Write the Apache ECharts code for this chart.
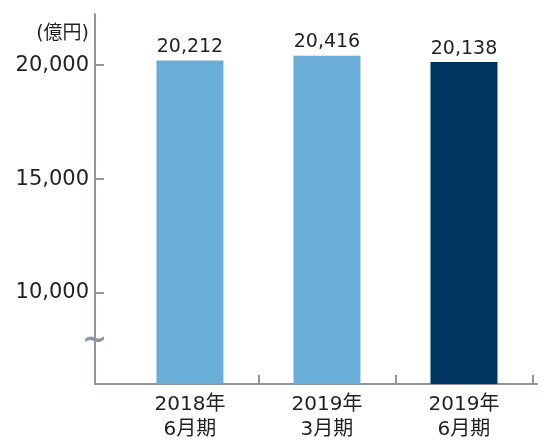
<!DOCTYPE html>
<html lang="ja">
<head>
<meta charset="UTF-8">
<title>売上高</title>
<script src="https://cdn.jsdelivr.net/npm/echarts@6.0.0/dist/echarts.min.js"></script>
<style>
  html, body { margin: 0; padding: 0; background: #fff; }
  #chart { width: 549px; height: 442px; }
</style>
</head>
<body>
<div id="chart"></div>
<script>
// 期ごとの値（億円）
var periods = ['2018年\n6月期', '2019年\n3月期', '2019年\n6月期'];
var values = [20212, 20416, 20138];
var barColors = ['#6aadd6', '#6aadd6', '#003461'];
var yTicks = [10000, 15000, 20000];
var unitLabel = '(億円)';

var axisColor = '#8f95a5';
var textColor = '#231f20';
var font = '"DejaVu Sans", "Noto Sans CJK JP", sans-serif';

// x軸の範囲（1区分 = 137px）
var xMin = -0.693;
var xMax = 2.533;
var tickLen = 9 / 137;

var chart = echarts.init(document.getElementById('chart'));

chart.setOption({
  animation: false,
  title: {
    text: unitLabel,
    right: 549 - 89,
    top: 25,
    textStyle: { color: textColor, fontFamily: font, fontSize: 19, fontWeight: 'normal' },
    padding: 0
  },
  grid: { left: 95, right: 12, top: 14, bottom: 55 },
  xAxis: {
    type: 'value',
    min: xMin,
    max: xMax,
    splitLine: { show: false },
    axisLine: { show: true, onZero: false, lineStyle: { color: axisColor, width: 2 } },
    axisTick: {
      show: true,
      inside: true,
      length: 9,
      customValues: [0.5, 1.5, 2.5],
      lineStyle: { color: axisColor, width: 2 }
    },
    axisLabel: {
      customValues: [0, 1, 2],
      formatter: function (v) { return periods[Math.round(v)]; },
      color: textColor,
      fontFamily: font,
      fontSize: 20,
      lineHeight: 25,
      margin: 8
    }
  },
  yAxis: {
    type: 'value',
    min: 6000,
    max: 22250,
    splitLine: { show: false },
    axisLine: { show: true, onZero: false, lineStyle: { color: axisColor, width: 2 } },
    axisTick: {
      show: true,
      inside: true,
      length: 9,
      customValues: yTicks,
      lineStyle: { color: axisColor, width: 2 }
    },
    axisLabel: {
      customValues: yTicks,
      color: textColor,
      fontFamily: font,
      fontSize: 21,
      margin: 6
    }
  },
  graphic: [{
    type: 'text',
    left: 82,
    top: 326,
    style: {
      text: '~',
      fill: axisColor,
      font: 'bold 30px "DejaVu Sans", sans-serif'
    }
  }],
  series: [{
    type: 'bar',
    barWidth: 67,
    data: values.map(function (v, i) {
      return { value: [i, v], itemStyle: { color: barColors[i] } };
    }),
    label: {
      show: true,
      position: 'top',
      distance: 4,
      formatter: function (p) { return p.value[1].toLocaleString('en-US'); },
      color: textColor,
      fontFamily: font,
      fontSize: 19
    },
    // 縦軸の目盛り（内向き）
    markLine: {
      silent: true,
      symbol: 'none',
      label: { show: false },
      lineStyle: { color: axisColor, width: 2, type: 'solid' },
      data: yTicks.map(function (t) {
        return [{ coord: [xMin, t] }, { coord: [xMin + tickLen, t] }];
      })
    }
  }]
});
</script>
</body>
</html>
